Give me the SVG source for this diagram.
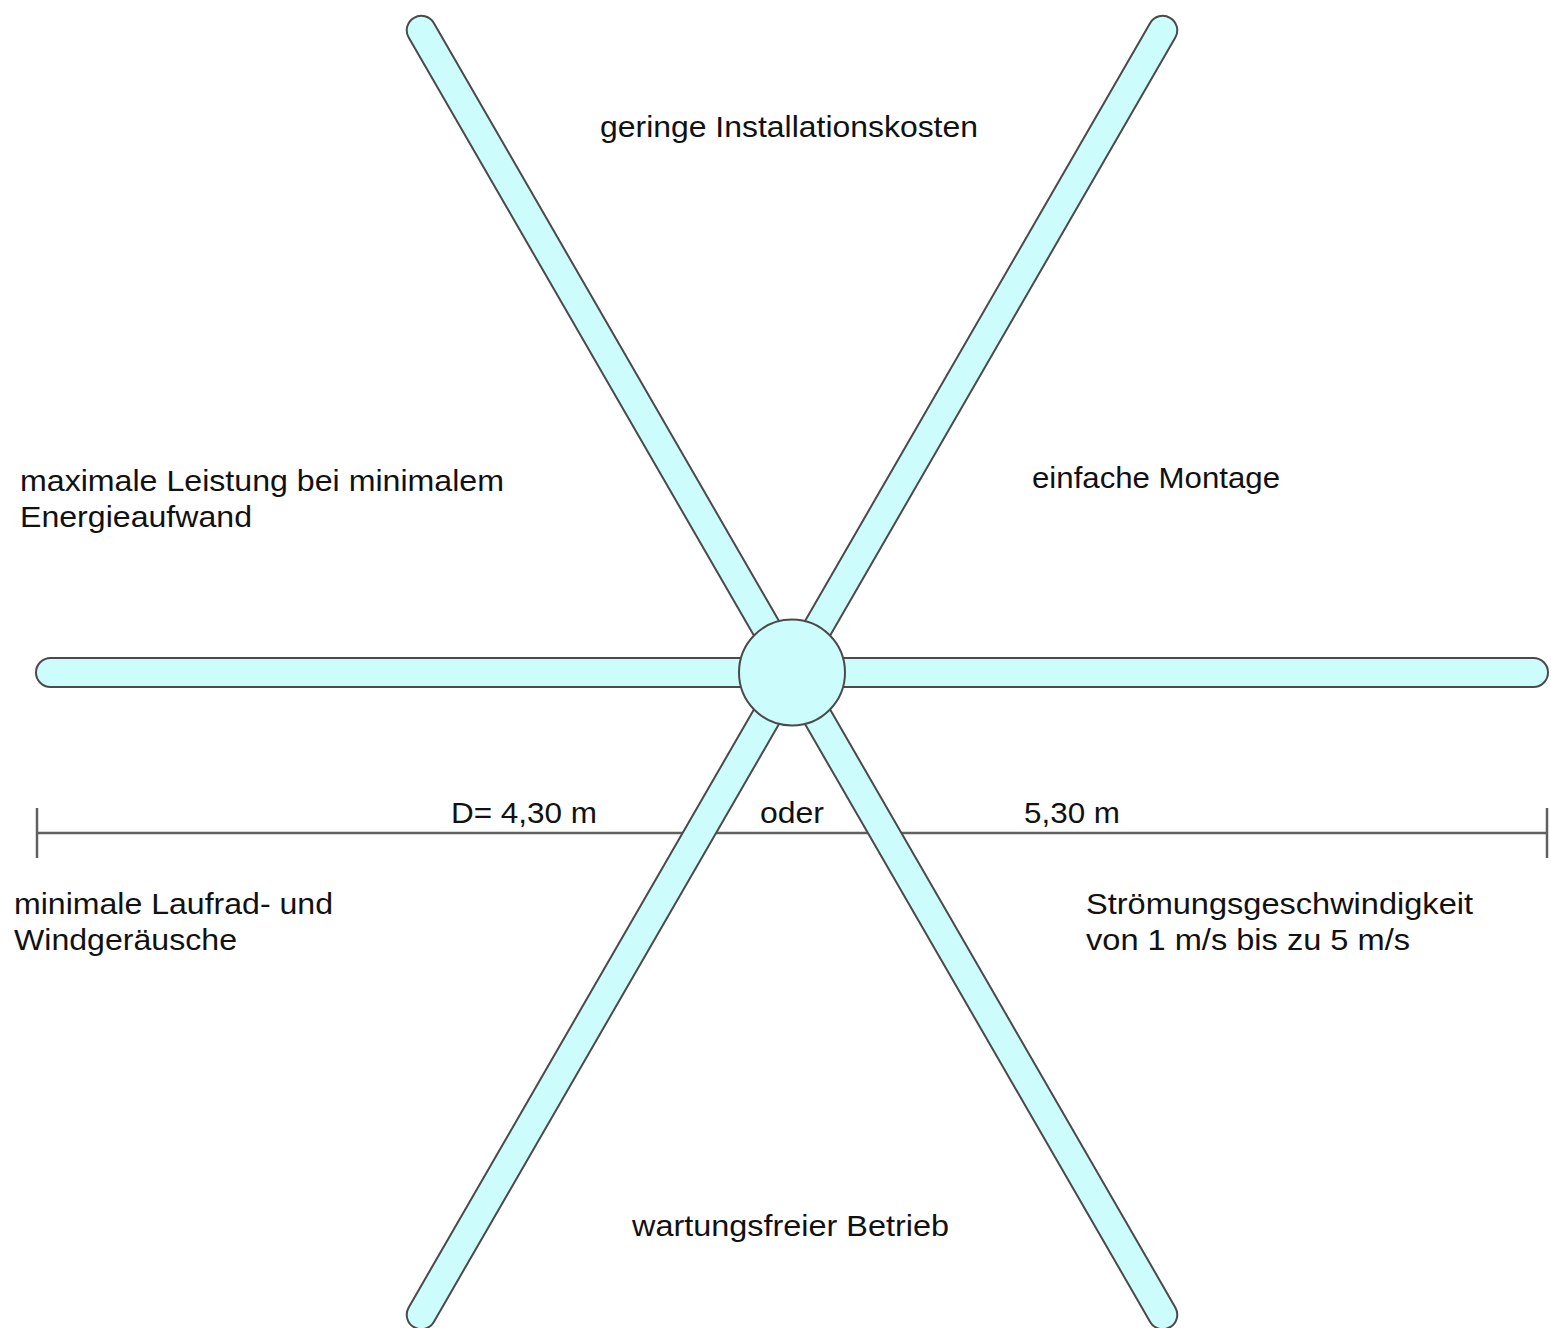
<svg xmlns="http://www.w3.org/2000/svg" width="1551" height="1328" viewBox="0 0 1551 1328">
  <style>
    .blade { fill: #ccfcfc; stroke: #4a4a4a; stroke-width: 2; }
    .hub { fill: #ccfcfc; stroke: #4a4a4a; stroke-width: 2; }
    .dim { stroke: #606060; stroke-width: 2.5; fill: none; }
    .lbl { font-family: "Liberation Sans", Arial, sans-serif; font-size: 29px; fill: #111; }
  </style>
  <defs>
    <!-- one blade, pointing along +x from the hub centre -->
    <rect id="bladeShape" class="blade" x="0" y="-14.5" width="756" height="29" rx="14.5" ry="14.5"/>
  </defs>
  <rect width="1551" height="1328" fill="#ffffff"/>

  <!-- diameter dimension line (behind the blades) -->
  <g id="connectors">
    <line class="dim" x1="37" y1="833" x2="1547" y2="833"/>
    <line class="dim" x1="37" y1="808" x2="37" y2="858"/>
    <line class="dim" x1="1547" y1="808" x2="1547" y2="858"/>
  </g>

  <!-- six fan blades around the hub -->
  <g id="blades">
    <use id="blade-right" href="#bladeShape" transform="translate(792,672.5) rotate(0)"/>
    <use id="blade-left" href="#bladeShape" transform="translate(792,672.5) rotate(180)"/>
    <use id="blade-upper-left" href="#bladeShape" transform="translate(792,672.5) rotate(-120)"/>
    <use id="blade-upper-right" href="#bladeShape" transform="translate(792,672.5) rotate(-60)"/>
    <use id="blade-lower-left" href="#bladeShape" transform="translate(792,672.5) rotate(120)"/>
    <use id="blade-lower-right" href="#bladeShape" transform="translate(792,672.5) rotate(60)"/>
  </g>

  <g id="hub">
    <circle class="hub" cx="792" cy="672.5" r="53"/>
  </g>

  <!-- feature labels -->
  <g id="label-top">
    <text class="lbl" x="600" y="137" textLength="378" lengthAdjust="spacingAndGlyphs">geringe Installationskosten</text>
  </g>
  <g id="label-upper-left">
    <text class="lbl" x="20" y="491" textLength="484" lengthAdjust="spacingAndGlyphs">maximale Leistung bei minimalem</text>
    <text class="lbl" x="20" y="527" textLength="232" lengthAdjust="spacingAndGlyphs">Energieaufwand</text>
  </g>
  <g id="label-upper-right">
    <text class="lbl" x="1032" y="488" textLength="248" lengthAdjust="spacingAndGlyphs">einfache Montage</text>
  </g>
  <g id="label-diameter">
    <text class="lbl" x="451" y="823" textLength="146" lengthAdjust="spacingAndGlyphs">D= 4,30 m</text>
    <text class="lbl" x="760" y="823" textLength="64" lengthAdjust="spacingAndGlyphs">oder</text>
    <text class="lbl" x="1024" y="823" textLength="96" lengthAdjust="spacingAndGlyphs">5,30 m</text>
  </g>
  <g id="label-lower-left">
    <text class="lbl" x="14" y="914" textLength="319" lengthAdjust="spacingAndGlyphs">minimale Laufrad- und</text>
    <text class="lbl" x="14" y="950" textLength="223" lengthAdjust="spacingAndGlyphs">Windgeräusche</text>
  </g>
  <g id="label-lower-right">
    <text class="lbl" x="1086" y="914" textLength="387" lengthAdjust="spacingAndGlyphs">Strömungsgeschwindigkeit</text>
    <text class="lbl" x="1086" y="950" textLength="324" lengthAdjust="spacingAndGlyphs">von 1 m/s bis zu 5 m/s</text>
  </g>
  <g id="label-bottom">
    <text class="lbl" x="632" y="1236" textLength="317" lengthAdjust="spacingAndGlyphs">wartungsfreier Betrieb</text>
  </g>
</svg>
